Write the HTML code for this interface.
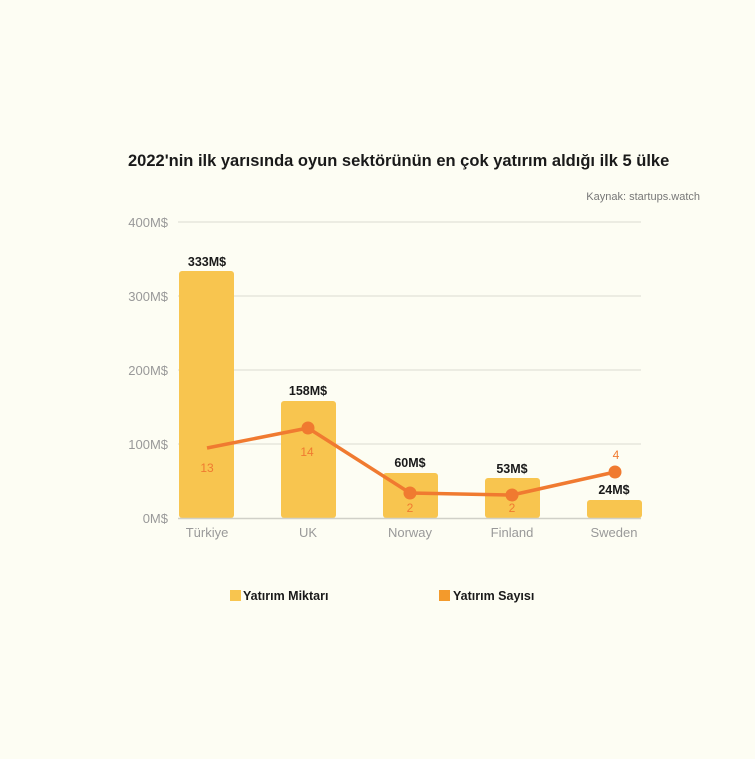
<!DOCTYPE html>
<html><head><meta charset="utf-8"><style>
html,body{margin:0;padding:0;background:#fdfdf3;}
svg{display:block;font-family:"Liberation Sans",sans-serif;}
</style></head><body>
<svg width="755" height="759" viewBox="0 0 755 759">
<rect width="755" height="759" fill="#fdfdf3"/>
<text x="128" y="166" font-size="16.5" font-weight="bold" fill="#1a1a1a">2022'nin ilk yarısında oyun sektörünün en çok yatırım aldığı ilk 5 ülke</text>
<text x="700" y="200" font-size="11" fill="#777" text-anchor="end">Kaynak: startups.watch</text>
<g stroke="#e6e6dc" stroke-width="1.5">
<line x1="178" y1="222" x2="641" y2="222"/><line x1="178" y1="296" x2="641" y2="296"/>
<line x1="178" y1="370" x2="641" y2="370"/><line x1="178" y1="444" x2="641" y2="444"/>
</g>
<g font-size="13" fill="#999" text-anchor="end">
<text x="168" y="227">400M$</text><text x="168" y="301">300M$</text><text x="168" y="375">200M$</text><text x="168" y="449">100M$</text><text x="168" y="523">0M$</text>
</g>
<g fill="#f8c54f">
<rect x="179" y="271" width="55" height="247" rx="3"/>
<rect x="281" y="401" width="55" height="117" rx="3"/>
<rect x="383" y="473" width="55" height="45" rx="3"/>
<rect x="485" y="478" width="55" height="40" rx="3"/>
<rect x="587" y="500" width="55" height="18" rx="3"/>
</g>
<line x1="178" y1="518.5" x2="641" y2="518.5" stroke="#d0d0c8" stroke-width="1.5"/>
<g font-size="12.5" font-weight="bold" fill="#1a1a1a" text-anchor="middle">
<text x="207" y="266">333M$</text><text x="308" y="395">158M$</text><text x="410" y="467">60M$</text><text x="512" y="473">53M$</text><text x="614" y="494">24M$</text>
</g>
<polyline points="207,448 308,428 410,493 512,495 615,472" fill="none" stroke="#f07a30" stroke-width="3.5" stroke-linejoin="round"/>
<g fill="#f07a30"><circle cx="308" cy="428" r="6.5"/><circle cx="410" cy="493" r="6.5"/><circle cx="512" cy="495" r="6.5"/><circle cx="615" cy="472" r="6.5"/></g>
<g font-size="12" fill="#f07a30" text-anchor="middle">
<text x="207" y="472">13</text><text x="307" y="456">14</text><text x="410" y="512">2</text><text x="512" y="512">2</text><text x="616" y="459">4</text>
</g>
<g font-size="13" fill="#999" text-anchor="middle">
<text x="207" y="537">Türkiye</text><text x="308" y="537">UK</text><text x="410" y="537">Norway</text><text x="512" y="537">Finland</text><text x="614" y="537">Sweden</text>
</g>
<rect x="230" y="590" width="11" height="11" fill="#f8c54f"/>
<text x="243" y="600" font-size="12.5" font-weight="bold" fill="#1a1a1a">Yatırım Miktarı</text>
<rect x="439" y="590" width="11" height="11" fill="#f39a2c"/>
<text x="453" y="600" font-size="12.5" font-weight="bold" fill="#1a1a1a">Yatırım Sayısı</text>
</svg>
</body></html>
